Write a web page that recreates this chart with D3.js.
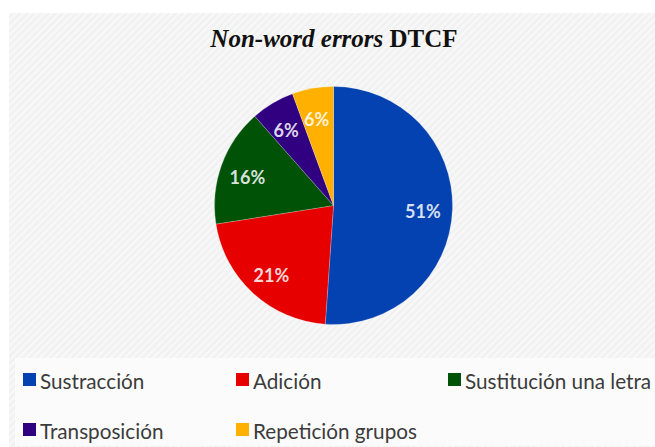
<!DOCTYPE html>
<html>
<head>
<meta charset="utf-8">
<script src="https://cdn.jsdelivr.net/npm/d3@7"></script>
<style>
  html, body { margin: 0; padding: 0; background: #ffffff; }
  svg { display: block; }
</style>
</head>
<body>
<svg id="chart" width="655" height="447"></svg>
<script>
// ---- data ----
const categories = ["Sustracción", "Adición", "Sustitución una letra", "Transposición", "Repetición grupos"];
const values = [51.1, 21.4, 16.0, 5.9, 5.6];
const labels = ["51%", "21%", "16%", "6%", "6%"];
const colors = ["#0442b2", "#e60000", "#005207", "#310080", "#ffb000"];
const titleItalic = "Non-word errors";
const titleBold = " DTCF";

const W = 655, H = 447;
const svg = d3.select("#chart");

// ---- background with diagonal stripes ----
const defs = svg.append("defs");
const pat = defs.append("pattern")
  .attr("id", "stripes")
  .attr("patternUnits", "userSpaceOnUse")
  .attr("width", 5).attr("height", 5)
  .attr("patternTransform", "rotate(-45)");
pat.append("rect").attr("width", 5).attr("height", 5).attr("fill", "#f1f1f1");
pat.append("rect").attr("width", 5).attr("height", 2.5).attr("fill", "#f8f8f8");

svg.append("rect").attr("width", W).attr("height", H).attr("fill", "#ffffff");
svg.append("rect").attr("x", 9).attr("y", 13).attr("width", W - 9).attr("height", H - 13)
  .attr("fill", "url(#stripes)");

// legend box
svg.append("rect").attr("x", 15).attr("y", 358).attr("width", W - 15).attr("height", 88)
  .attr("fill", "#fbfbfb");

// ---- title ----
const title = svg.append("text")
  .attr("x", 334).attr("y", 47)
  .attr("text-anchor", "middle")
  .style("font-family", "'Liberation Serif', 'Times New Roman', serif")
  .style("font-size", "25px")
  .style("font-weight", "bold")
  .attr("fill", "#111");
title.append("tspan").style("font-style", "italic").text(titleItalic);
title.append("tspan").text(titleBold);

// ---- pie ----
const cx = 333.5, cy = 205.5, r = 119;
const pie = d3.pie().sort(null).value(d => d)(values);
const arc = d3.arc().innerRadius(0).outerRadius(r);
const labelArc = d3.arc().innerRadius(r * 0.76).outerRadius(r * 0.76);

const g = svg.append("g").attr("transform", `translate(${cx},${cy})`);
g.selectAll("path.slice").data(pie).join("path")
  .attr("class", "slice")
  .attr("d", arc)
  .attr("fill", (d, i) => colors[i])
  .attr("stroke", "#ffffff")
  .attr("stroke-opacity", 0.35)
  .attr("stroke-width", 0.6);

g.selectAll("text.lbl").data(pie).join("text")
  .attr("class", "lbl")
  .attr("transform", d => { const c = labelArc.centroid(d); return `translate(${c[0] - 1},${c[1] + 3})`; })
  .attr("text-anchor", "middle")
  .attr("dy", "0.35em")
  .style("font-family", "Lato, 'Noto Sans', sans-serif")
  .style("font-weight", "bold")
  .style("font-size", "18px")
  .attr("fill", "#ffffff")
  .attr("fill-opacity", 0.85)
  .text((d, i) => labels[i]);

// ---- legend ----
const colX = [23, 236, 448];
const rowY = [373, 423];
const leg = svg.append("g");
categories.forEach((c, i) => {
  const col = i % 3, row = Math.floor(i / 3);
  const x = colX[col], y = rowY[row];
  leg.append("rect").attr("x", x).attr("y", y).attr("width", 13).attr("height", 13)
    .attr("fill", colors[i]);
  leg.append("text").attr("x", x + 17).attr("y", y + 16)
    .style("font-family", "Lato, 'Noto Sans', sans-serif")
    .style("font-size", "20.7px")
    .attr("fill", "#3c3c3c")
    .text(c);
});
</script>
</body>
</html>
